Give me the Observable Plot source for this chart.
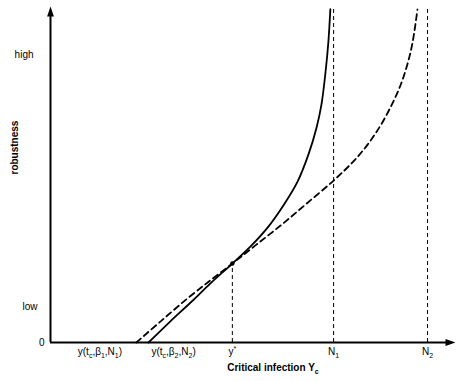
<!DOCTYPE html>
<html>
<head>
<meta charset="utf-8">
<script src="https://cdn.jsdelivr.net/npm/d3@7"></script>
<script src="https://cdn.jsdelivr.net/npm/@observablehq/plot@0.6"></script>
<style>
  html, body { margin: 0; padding: 0; background: #fff; }
</style>
</head>
<body>
<div id="chart"></div>
<script>
// ---- data (abstract units) ----
const solidX  = [2.42, 2.96, 3.46, 3.95, 4.49, 4.94, 5.36, 5.75, 6.10, 6.37, 6.57, 6.69, 6.79, 6.86, 6.91];
const solidY  = [0.00, 0.63, 1.19, 1.76, 2.35, 2.86, 3.42, 4.08, 4.79, 5.60, 6.40, 7.08, 8.04, 8.93, 9.92];
const dashedX = [2.12, 2.72, 3.38, 3.95, 4.49, 5.06, 5.68, 6.30, 6.99, 7.48, 7.83, 8.15, 8.44, 8.64, 8.81, 8.94, 9.06];
const dashedY = [0.00, 0.63, 1.31, 1.85, 2.35, 2.89, 3.48, 4.11, 4.82, 5.39, 5.89, 6.46, 7.11, 7.65, 8.27, 8.93, 9.91];

const yStar = {x: 4.49, y: 2.35};
const nPositions = [6.99, 9.31];
const nTop = 9.92;

const xTickPositions = [1.22, 3.04, 4.49, 6.99, 9.31];
const xTickLabels = ["y(t_c,β_1,N_1)", "y(t_c,β_2,N_2)", "y^*", "N_1", "N_2"];
const yTickPositions = [0, 1.07, 8.57];
const yTickLabels = ["0", "low", "high"];

const xTitle = "Critical infection Y_c";
const yTitle = "robustness";
const axisMax = 10;

// ---- derived tables ----
const solid = solidX.map((x, i) => ({x, y: solidY[i]}));
const dashed = dashedX.map((x, i) => ({x, y: dashedY[i]}));
const vlines = [{x: yStar.x, top: yStar.y}, ...nPositions.map(x => ({x, top: nTop}))];
const xLab = new Map(xTickPositions.map((p, i) => [p, xTickLabels[i]]));
const yLab = new Map(yTickPositions.map((p, i) => [p, yTickLabels[i]]));
const yPad = [6, 13, 17];

// arrowhead symbol: tip at origin, pointing up
const arrowHead = {
  draw(ctx) {
    ctx.moveTo(0, 0);
    ctx.lineTo(3.4, 10);
    ctx.lineTo(-3.4, 10);
    ctx.closePath();
  }
};

const plot = Plot.plot({
  width: 457,
  height: 381,
  marginLeft: 50,
  marginRight: 2,
  marginTop: 6,
  marginBottom: 39,
  style: {fontFamily: "'Liberation Sans', Arial, Helvetica, sans-serif", fontSize: "10px", color: "black", background: "white"},
  x: {domain: [0, axisMax], label: null},
  y: {domain: [0, axisMax], label: null},
  marks: [
    Plot.ruleX(vlines, {x: "x", y1: 0, y2: "top", stroke: "black", strokeWidth: 1, strokeDasharray: "4,3"}),
    Plot.line(dashed, {x: "x", y: "y", curve: "catmull-rom", stroke: "black", strokeWidth: 1.8, strokeDasharray: "6,4"}),
    Plot.line(solid, {x: "x", y: "y", curve: "catmull-rom", stroke: "black", strokeWidth: 1.8}),
    Plot.dot([yStar], {x: "x", y: "y", r: 2.2, fill: "black"}),
    Plot.ruleY([0], {x1: 0, x2: axisMax - 0.15, stroke: "black", strokeWidth: 2}),
    Plot.ruleX([0], {y1: 0, y2: axisMax - 0.15, stroke: "black", strokeWidth: 2}),
    Plot.dot([{x: 0, y: axisMax}], {x: "x", y: "y", symbol: arrowHead, fill: "black", stroke: null}),
    Plot.dot([{x: axisMax, y: 0}], {x: "x", y: "y", symbol: arrowHead, rotate: 90, fill: "black", stroke: null}),
    Plot.axisX(xTickPositions, {tickSize: 0, tickPadding: 5, tickFormat: d => xLab.get(d), label: null}),
    ...yTickPositions.map((p, i) => Plot.axisY([p], {tickSize: 0, tickPadding: yPad[i], tickFormat: d => yLab.get(d), label: null})),
    Plot.text([xTitle], {text: d => d, frameAnchor: "bottom", dy: 28, dx: 20, fontWeight: "bold", fontSize: 10}),
    Plot.text([yTitle], {text: d => d, frameAnchor: "left", dx: -36, rotate: -90, fontWeight: "bold", fontSize: 10})
  ]
});

// rich text: _x subscript, ^x superscript
function richify(el) {
  const s = el.textContent;
  if (!/[_^]/.test(s)) return;
  while (el.firstChild) el.removeChild(el.firstChild);
  const ns = "http://www.w3.org/2000/svg";
  let cur = 0, buf = "";
  const add = (txt, off, small) => {
    const t = document.createElementNS(ns, "tspan");
    t.textContent = txt;
    if (off !== cur) t.setAttribute("dy", off - cur);
    if (small) t.setAttribute("font-size", "7");
    cur = off;
    el.appendChild(t);
  };
  for (let i = 0; i < s.length; i++) {
    const c = s[i];
    if ((c === "_" || c === "^") && i + 1 < s.length) {
      if (buf) { add(buf, 0, false); buf = ""; }
      add(s[i + 1], c === "_" ? 3 : -4, true);
      i++;
    } else buf += c;
  }
  if (buf) add(buf, 0, false);
}
plot.querySelectorAll("text").forEach(richify);
document.getElementById("chart").appendChild(plot);
</script>
</body>
</html>
